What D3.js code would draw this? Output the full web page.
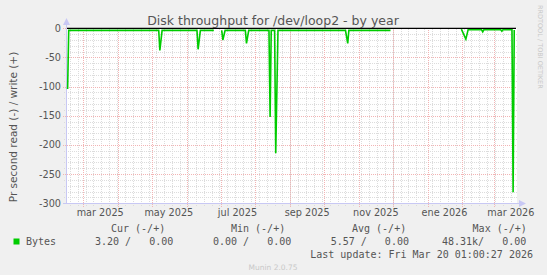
<!DOCTYPE html>
<html>
<head>
<meta charset="utf-8">
<script src="https://cdn.jsdelivr.net/npm/d3@7"></script>
<style>
  body { margin: 0; background: #f0f0f0; }
  text { font-family: "DejaVu Sans", sans-serif; }
  .mono { font-family: "DejaVu Sans Mono", monospace; white-space: pre; }
</style>
</head>
<body>
<script>
// read (-) series, one point per day where the shape changes; null = no data
const readDates = ['2025-02-15', '2025-02-16', '2025-05-07', '2025-05-08', '2025-05-10',
  '2025-06-10', '2025-06-11', '2025-06-13', '2025-06-25', '2025-06-26', '2025-07-01',
  '2025-07-02', '2025-07-03', '2025-07-05', '2025-07-23', '2025-07-24', '2025-07-26',
  '2025-08-13', '2025-08-14', '2025-08-15', '2025-08-18', '2025-08-19', '2025-08-21',
  '2025-10-20', '2025-10-22', '2025-10-23', '2025-11-29', '2025-11-30', '2026-01-30',
  '2026-01-31', '2026-02-04', '2026-02-06', '2026-02-18', '2026-02-19', '2026-02-20',
  '2026-03-07', '2026-03-08', '2026-03-09', '2026-03-17', '2026-03-18', '2026-03-19'];
const readValues = [-104, -3.5, -3.5, -38, -3.5,
  -3.5, -36, -3.5, -3.5, null, null,
  -3.5, -20, -3.5, -3.5, -26, -3.5,
  -3.5, -152, -3.5, -3.5, -214, -3.5,
  -3.5, -26, -3.5, -3.5, null, null,
  -1.5, -18.5, -2.5, -2.5, -6, -2.5,
  -2.5, -5, -2.5, -2.5, -281, -3];

const yTicks = [0, -50, -100, -150, -200, -250, -300];
const xLabels = ['mar 2025', 'may 2025', 'jul 2025', 'sep 2025', 'nov 2025', 'ene 2026', 'mar 2026'];
const legendHeader = ['Cur (-/+)', 'Min (-/+)', 'Avg (-/+)', 'Max (-/+)'];
const legendRow = ['3.20 /   0.00', '0.00 /   0.00', '5.57 /   0.00', '48.31k/   0.00'];
const lastUpdate = 'Last update: Fri Mar 20 01:00:27 2026';

const w = 547, h = 275;
const end = new Date(2026, 2, 20, 1, 0, 27);
const start = new Date(end.getTime() - 400 * 864e5);
const parse = d3.timeParse('%Y-%m-%d');
const data = readDates.map((d, i) => ({ t: parse(d), v: readValues[i] }));

const svg = d3.select('body').append('svg')
  .attr('width', w).attr('height', h);

svg.append('rect').attr('width', w).attr('height', h).attr('fill', '#f0f0f0');

const x = d3.scaleTime().domain([start, end]).range([65.4, 515.4]);
const y = d3.scaleLinear().domain([-300, 0]).range([203.3, 28.3]);

// canvas
svg.append('rect').attr('x', 66).attr('y', 28).attr('width', 451).attr('height', 176).attr('fill', '#fff');

// minor grid
const grid = svg.append('g');
grid.selectAll('.hmin').data(d3.range(-300, 1, 10).filter(v => v % 50 !== 0)).enter()
  .append('line')
  .attr('x1', 64).attr('x2', 517)
  .attr('y1', d => Math.round(y(d)) + 0.5).attr('y2', d => Math.round(y(d)) + 0.5)
  .attr('stroke', '#dcdcdc').attr('stroke-dasharray', '1,1');
const weeks = d3.timeMonday.range(start, end);
grid.selectAll('.vmin').data(weeks).enter()
  .append('line')
  .attr('y1', 206).attr('y2', 28)
  .attr('x1', d => Math.round(x(d)) + 0.5).attr('x2', d => Math.round(x(d)) + 0.5)
  .attr('stroke', '#dcdcdc').attr('stroke-dasharray', '1,1');

// major grid
grid.selectAll('.hmaj').data(yTicks).enter()
  .append('line')
  .attr('x1', 63).attr('x2', 517)
  .attr('y1', d => Math.round(y(d)) + 0.5).attr('y2', d => Math.round(y(d)) + 0.5)
  .attr('stroke', '#f2b4b4').attr('stroke-dasharray', '1,1');
const months = d3.timeMonth.range(start, end);
grid.selectAll('.vmaj').data(months).enter()
  .append('line')
  .attr('y1', 207).attr('y2', 28)
  .attr('x1', d => Math.round(x(d)) + 0.5).attr('x2', d => Math.round(x(d)) + 0.5)
  .attr('stroke', '#f2b4b4').attr('stroke-dasharray', '1,1');

// axes (rrd style, light blue with arrows)
svg.append('line').attr('x1', 66.5).attr('x2', 66.5).attr('y1', 204).attr('y2', 24)
  .attr('stroke', '#c8c8f4');
svg.append('path').attr('d', 'M63,25 L70,25 L66.5,18 Z').attr('fill', '#c8c8f4');
svg.append('line').attr('x1', 63).attr('x2', 520).attr('y1', 203.5).attr('y2', 203.5)
  .attr('stroke', '#c8c8f4');
svg.append('path').attr('d', 'M519,200 L519,207 L526,203.5 Z').attr('fill', '#c8c8f4');

// y tick labels
svg.append('g').selectAll('text').data(yTicks).enter()
  .append('text')
  .attr('x', 61).attr('y', d => y(d) + 3.5)
  .attr('text-anchor', 'end')
  .attr('font-size', '9.7px').attr('fill', '#555')
  .text(d => d);

// x labels, placed half a month after the month line (rrdtool style)
const labelMonths = months.filter((d, i) => i % 2 === 0);
svg.append('g').selectAll('text').data(labelMonths).enter()
  .append('text')
  .attr('x', d => x(d3.timeDay.offset(d, 15)))
  .attr('y', 216)
  .attr('text-anchor', 'middle')
  .attr('font-size', '9.7px').attr('fill', '#555')
  .text((d, i) => xLabels[i]);

// zero line
svg.append('line').attr('x1', 67).attr('x2', 516)
  .attr('y1', y(0)).attr('y2', y(0))
  .attr('stroke', '#000').attr('stroke-width', 1.2);

// series
const line = d3.line()
  .defined(d => d.v !== null)
  .x(d => x(d.t))
  .y(d => y(d.v));
svg.append('path').datum(data)
  .attr('d', line)
  .attr('fill', 'none')
  .attr('stroke', '#00cc00')
  .attr('stroke-width', 1.6);

// title and labels
svg.append('text').attr('x', 273).attr('y', 25)
  .attr('text-anchor', 'middle').attr('font-size', '12.5px').attr('fill', '#555')
  .text('Disk throughput for /dev/loop2 - by year');

svg.append('text')
  .attr('transform', 'translate(17,127) rotate(-90)')
  .attr('text-anchor', 'middle').attr('font-size', '10.5px').attr('fill', '#555')
  .text('Pr second read (-) / write (+)');

svg.append('text')
  .attr('transform', 'translate(538,5) rotate(90)')
  .attr('text-anchor', 'start').attr('font-size', '6.5px').attr('fill', '#c8c8c8')
  .text('RRDTOOL / TOBI OETIKER');

// legend
const headX = [111, 231, 352, 472.6];
const rowX = [95, 213, 330.7, 442];
svg.append('g').selectAll('text').data(legendHeader).enter()
  .append('text').attr('class', 'mono')
  .attr('x', (d, i) => headX[i]).attr('y', 232)
  .attr('font-size', '10px').attr('fill', '#555')
  .text(d => d);
svg.append('rect').attr('x', 13.5).attr('y', 238.5).attr('width', 6).attr('height', 6)
  .attr('fill', '#00cc00');
svg.append('text').attr('class', 'mono').attr('x', 26).attr('y', 245)
  .attr('font-size', '10px').attr('fill', '#555').text('Bytes');
svg.append('g').selectAll('text').data(legendRow).enter()
  .append('text').attr('class', 'mono')
  .attr('x', (d, i) => rowX[i]).attr('y', 245)
  .attr('font-size', '10px').attr('fill', '#555')
  .text(d => d);
svg.append('text').attr('class', 'mono').attr('x', 533).attr('y', 258)
  .attr('text-anchor', 'end').attr('font-size', '10px').attr('fill', '#555')
  .text(lastUpdate);

svg.append('text').attr('x', 273).attr('y', 270)
  .attr('text-anchor', 'middle').attr('font-size', '7.5px').attr('fill', '#c8c8c8')
  .text('Munin 2.0.75');
</script>
</body>
</html>
